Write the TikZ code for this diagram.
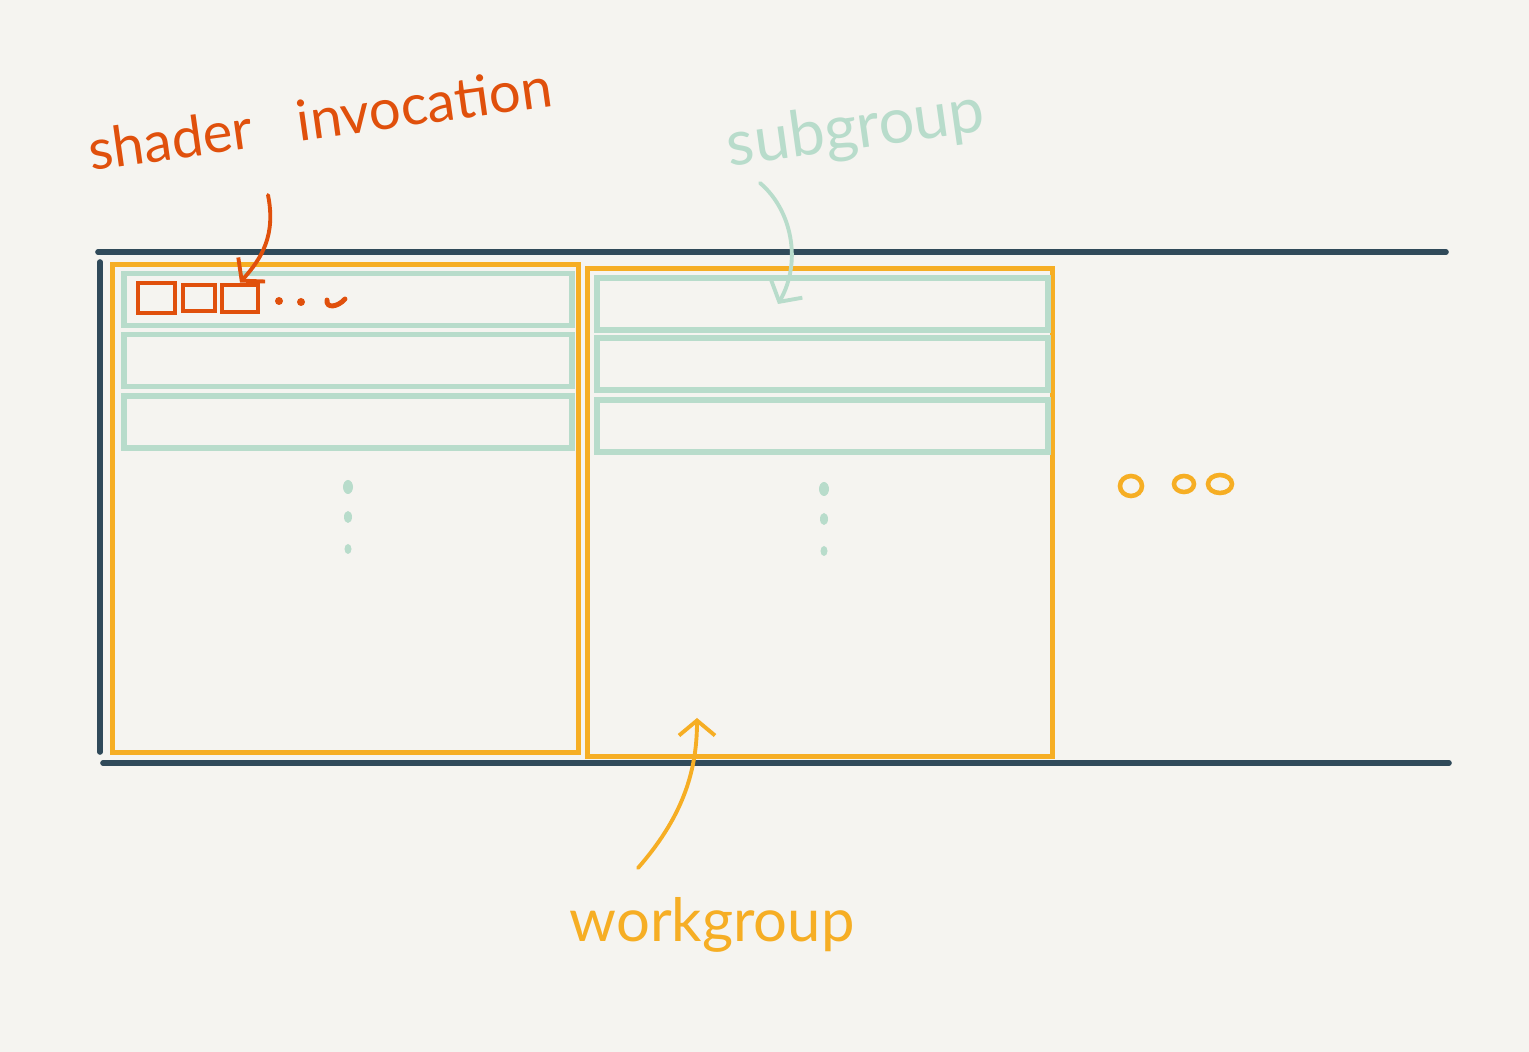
\documentclass[tikz,border=0pt]{standalone}
\usepackage{fontspec}
\usepackage{tikz}
\usepackage{xcolor}
\usetikzlibrary{arrows.meta}
\newfontfamily\mano{Lato}
\definecolor{fondo}{HTML}{F5F4F0}
\definecolor{oscuro}{HTML}{304A5A}
\definecolor{naranja}{HTML}{F6AE24}
\definecolor{rojo}{HTML}{E0500C}
\definecolor{menta}{HTML}{B8DCCB}
\begin{document}
\begin{tikzpicture}[x=0.01cm, y=-0.01cm,
			 workgroup/.style={draw=naranja, line width=1.4pt, inner sep=0pt, minimum width=4.65cm, minimum height=4.87cm},
			 subgroup/.style={draw=menta, line width=1.6pt, inner sep=0pt, minimum height=0.52cm},
			 invocacion/.style={draw=rojo, line width=1.4pt, inner sep=0pt},
			 etiqueta/.style={font=\mano\fontsize{16}{18}\selectfont, inner sep=0pt},
			 flecha/.style={line width=1.1pt, line cap=round, -{Straight Barb[length=0.15cm,width=0.36cm]}},
			 punto/.style={fill=menta, draw=none}
  		]
	\fill[fondo] (0,0) rectangle (1529,1052);

	%Banda oscura
		\draw[oscuro, line width=1.6pt, line cap=round] (98,252) -- (1446,252);
		\draw[oscuro, line width=1.6pt, line cap=round] (103,763) -- (1449,763);
		\draw[oscuro, line width=1.6pt, line cap=round] (100,262) -- (100,752);

	%Workgroups
		\node[workgroup] (wg1) at (345.5,508.5) {};
		\node[workgroup] (wg2) at (820,512.5) {};

	%Subgroups del primer workgroup
		\node[subgroup, minimum width=4.48cm] (sg11) at (348,299.5) {};
		\node[subgroup, minimum width=4.48cm] (sg12) at (348,360.5) {};
		\node[subgroup, minimum width=4.48cm] (sg13) at (348,422) {};
	%Subgroups del segundo workgroup
		\node[subgroup, minimum width=4.51cm] (sg21) at (822.5,304) {};
		\node[subgroup, minimum width=4.51cm] (sg22) at (822.5,364) {};
		\node[subgroup, minimum width=4.51cm] (sg23) at (822.5,426) {};

	%Puntos verticales
		\fill[punto] (348,487) ellipse (5 and 7);
		\fill[punto] (348,517) ellipse (4 and 6);
		\fill[punto] (348,549) ellipse (3.5 and 5);
		\fill[punto] (824,489) ellipse (5 and 7);
		\fill[punto] (824,519) ellipse (4 and 6);
		\fill[punto] (824,551) ellipse (3.5 and 5);

	%Mas workgroups
		\draw[naranja, line width=1.3pt] (1131,486) ellipse (11 and 10);
		\draw[naranja, line width=1.3pt] (1184,484) ellipse (10 and 8);
		\draw[naranja, line width=1.3pt] (1220,484) ellipse (12 and 9);

	%Invocaciones
		\node[invocacion, minimum width=0.37cm, minimum height=0.30cm] (inv1) at (156.5,298) {};
		\node[invocacion, minimum width=0.32cm, minimum height=0.26cm] (inv2) at (199,298) {};
		\node[invocacion, minimum width=0.36cm, minimum height=0.27cm] (inv3) at (240,298.5) {};
		\fill[rojo] (279,301) circle (4);
		\fill[rojo] (301,302) circle (4);
		\draw[rojo, line width=1.4pt, line cap=round] (327,300) .. controls (326,309) and (338,307) .. (345,299);

	%Etiquetas
		\node[etiqueta, text=rojo, rotate=8] (shader) at (320,118) {shader\hspace{0.45cm}invocation};
		\node[etiqueta, text=menta, rotate=8, font=\mano\fontsize{18}{20}\selectfont] (sub) at (856,131) {subgroup};
		\node[etiqueta, text=naranja, font=\mano\fontsize{17}{19}\selectfont] (work) at (712,925) {workgroup};

	%Flechas
		\coordinate (colashader) at (268,195);
		\coordinate (colasub) at (760,183);
		\coordinate (colawork) at (638,868);
		\draw[flecha, rojo] (colashader) .. controls (276,235) and (262,258) .. (inv3.north);
		\draw[flecha, menta] (colasub) .. controls (792,210) and (802,262) .. (sg21.center -| 778,0);
		\draw[flecha, naranja] (colawork) .. controls (680,820) and (697,775) .. (697,718);
	\end{tikzpicture}
\end{document}
